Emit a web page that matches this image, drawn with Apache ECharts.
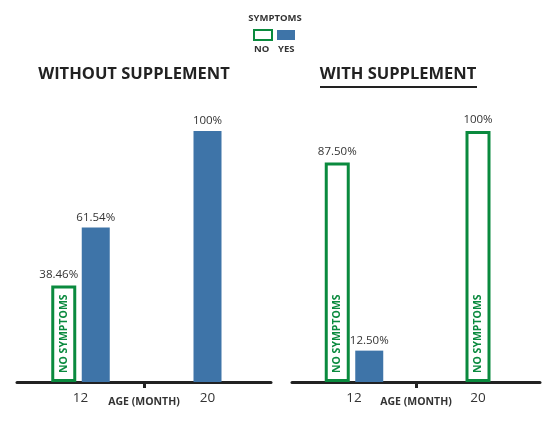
<!DOCTYPE html>
<html lang="en">
<head>
    <meta charset="UTF-8">
    <title>Symptoms by age</title>
    <script type="text/javascript" src="https://cdn.jsdelivr.net/npm/echarts@6/dist/echarts.min.js"></script>
    <style>
        html, body { margin: 0; padding: 0; background: #fff; }
        #chart { width: 552px; height: 427px; }
    </style>
</head>
<body>
<div id="chart"></div>
<script>
    // data
    var ageLabels = ['12', '20'];
    var noWithout = [38.46, 0];
    var yesWithout = [61.54, 100];
    var noWith = [87.5, 100];
    var yesWith = [12.5, 0];
    var panelTitles = ['WITHOUT SUPPLEMENT', 'WITH SUPPLEMENT'];

    var GREEN = '#0a8a3e';
    var BLUE = '#3e74a8';
    var FONT = '"Open Sans", "Noto Sans", sans-serif';

    function pct(v) {
        return Number.isInteger(v) ? v + '%' : v.toFixed(2) + '%';
    }

    function blank(n, i, v) {
        var arr = [];
        for (var k = 0; k < n; k++) arr.push(k === i ? v : '-');
        return arr;
    }

    // green outlined bar + zero height bar stacked on top to carry the value label
    function noBars(xi, yi, idx, values, stackId, offsetX) {
        return [{
            name: 'NO',
            type: 'bar',
            xAxisIndex: xi,
            yAxisIndex: yi,
            stack: stackId,
            barWidth: 25,
            barGap: '22%',
            data: blank(ageLabels.length, idx, values[idx]),
            itemStyle: { color: '#fff', borderColor: GREEN, borderWidth: 3 },
            label: {
                show: true,
                position: 'insideBottom',
                rotate: 90,
                align: 'left',
                verticalAlign: 'middle',
                distance: 9,
                formatter: 'NO SYMPTOMS',
                color: GREEN,
                fontFamily: FONT,
                fontWeight: 'bold',
                fontSize: 10.5
            },
            emphasis: { disabled: true },
            silent: true
        }, {
            name: 'NO value',
            type: 'bar',
            xAxisIndex: xi,
            yAxisIndex: yi,
            stack: stackId,
            barWidth: 25,
            barGap: '22%',
            data: blank(ageLabels.length, idx, 0),
            itemStyle: { color: 'transparent' },
            label: {
                show: true,
                position: 'top',
                distance: 5,
                offset: [offsetX || 0, 0],
                formatter: function () { return pct(values[idx]); },
                color: '#333',
                fontFamily: FONT,
                fontSize: 11.5
            },
            emphasis: { disabled: true },
            silent: true
        }];
    }

    function yesBar(xi, yi, idx, values) {
        return {
            name: 'YES',
            type: 'bar',
            xAxisIndex: xi,
            yAxisIndex: yi,
            barWidth: 28,
            barGap: '22%',
            data: blank(ageLabels.length, idx, values[idx]),
            itemStyle: { color: BLUE },
            label: {
                show: true,
                position: 'top',
                distance: 4,
                formatter: function (p) { return pct(p.value); },
                color: '#333',
                fontFamily: FONT,
                fontSize: 11.5
            },
            emphasis: { disabled: true },
            silent: true
        };
    }

    function panelSeries(gi, no, yes, noOffset) {
        var xa = gi * 3, xb = gi * 3 + 1;
        var s = [];
        // age 12: both bars side by side
        s = s.concat(noBars(xa, gi, 0, no, 'na' + gi, noOffset));
        s.push(yesBar(xa, gi, 0, yes));
        // age 20: only the non-zero bar, on its own axis so it stays centred
        if (no[1] > 0) s = s.concat(noBars(xb, gi, 1, no, 'nb' + gi, 0));
        if (yes[1] > 0) s.push(yesBar(xb, gi, 1, yes));
        return s;
    }

    function panelAxes(gi) {
        return [{
            type: 'category',
            gridIndex: gi,
            position: 'bottom',
            data: ageLabels,
            axisLine: { show: false },
            axisTick: { show: false },
            axisLabel: { color: '#333', fontFamily: FONT, fontSize: 13.5, margin: 9 }
        }, {
            type: 'category',
            gridIndex: gi,
            position: 'bottom',
            data: ageLabels,
            show: false
        }, {
            type: 'value',
            gridIndex: gi,
            position: 'bottom',
            min: 0,
            max: 2,
            axisLine: { show: true, lineStyle: { color: '#222', width: 3 } },
            axisTick: { show: true, customValues: [1], length: 6, lineStyle: { color: '#222', width: 3 } },
            axisLabel: { show: false },
            splitLine: { show: false },
            name: 'AGE (MONTH)',
            nameLocation: 'middle',
            nameGap: 15,
            nameTextStyle: { color: '#333', fontFamily: FONT, fontWeight: 'bold', fontSize: 10.5 }
        }];
    }

    var chart = echarts.init(document.getElementById('chart'));
    var option = {
        animation: false,
        title: [{
            text: 'SYMPTOMS',
            left: 275, top: 13, textAlign: 'center', padding: 0,
            textStyle: { color: '#333', fontFamily: FONT, fontWeight: 'bold', fontSize: 9.5 }
        }, {
            text: panelTitles[0],
            left: 134, top: 66, textAlign: 'center', padding: 0,
            textStyle: { color: '#222', fontFamily: FONT, fontWeight: 'bold', fontSize: 16.5 }
        }, {
            text: panelTitles[1],
            left: 398, top: 66, textAlign: 'center', padding: 0,
            textStyle: { color: '#222', fontFamily: FONT, fontWeight: 'bold', fontSize: 16.5 }
        }],
        legend: {
            data: [{ name: 'NO', itemStyle: { borderWidth: 2 } }, 'YES'],
            icon: 'rect',
            left: 253, top: 29, padding: 0,
            itemWidth: 18, itemHeight: 10, itemGap: 4,
            formatter: function () { return ''; },
            selectedMode: false
        },
        graphic: [
            { type: 'text', left: 254, top: 44, style: { text: 'NO', fill: '#333', font: 'bold 9.5px ' + FONT } },
            { type: 'text', left: 278, top: 44, style: { text: 'YES', fill: '#333', font: 'bold 9.5px ' + FONT } },
            { type: 'rect', left: 320, top: 86, shape: { width: 157, height: 2 }, style: { fill: '#222' } }
        ],
        grid: [
            { left: 17, width: 254, top: 131, height: 251 },
            { left: 292, width: 248, top: 131, height: 251 }
        ],
        xAxis: panelAxes(0).concat(panelAxes(1)),
        yAxis: [
            { type: 'value', gridIndex: 0, min: 0, max: 100, show: false },
            { type: 'value', gridIndex: 1, min: 0, max: 100, show: false }
        ],
        series: panelSeries(0, noWithout, yesWithout, -5).concat(panelSeries(1, noWith, yesWith, 0))
    };
    chart.setOption(option);
</script>
</body>
</html>
